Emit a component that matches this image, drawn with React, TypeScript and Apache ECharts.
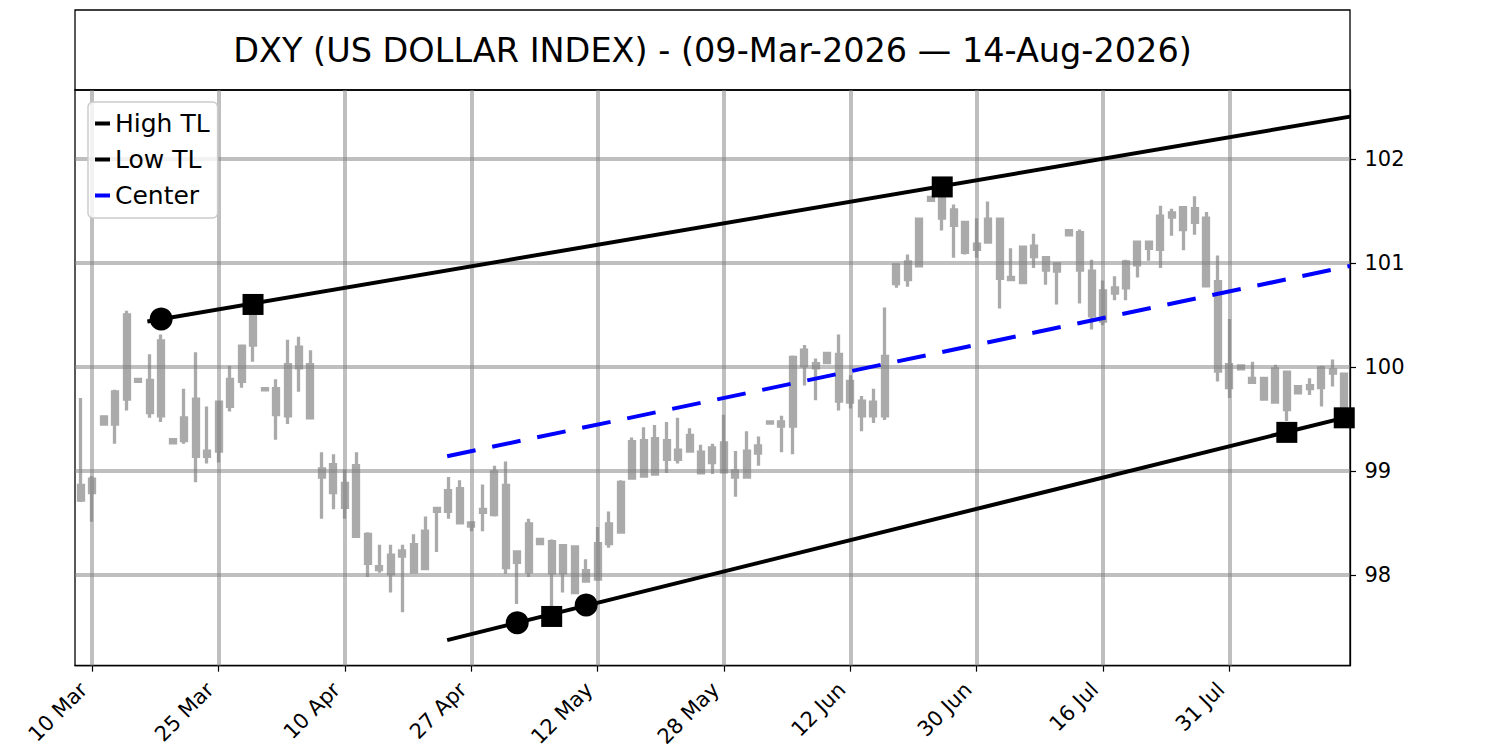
import React, { useEffect, useRef } from "react";
import * as echarts from "echarts";

const FONT = "DejaVu Sans";

const titleText = "DXY (US DOLLAR INDEX) - (09-Mar-2026 \u2014 14-Aug-2026)";

const dates: string[] = [
  "9 Mar", "10 Mar", "11 Mar", "12 Mar", "13 Mar", "16 Mar", "17 Mar", "18 Mar", "19 Mar", "20 Mar", "23 Mar", "24 Mar", "25 Mar", "26 Mar", "27 Mar", "30 Mar", "31 Mar",
  "1 Apr", "2 Apr", "6 Apr", "7 Apr", "8 Apr", "9 Apr", "10 Apr", "13 Apr", "14 Apr", "15 Apr", "16 Apr", "17 Apr", "20 Apr", "21 Apr", "22 Apr", "23 Apr", "24 Apr", "27 Apr", "28 Apr", "29 Apr", "30 Apr",
  "1 May", "4 May", "5 May", "6 May", "7 May", "8 May", "11 May", "12 May", "13 May", "14 May", "15 May", "18 May", "19 May", "20 May", "21 May", "22 May", "26 May", "27 May", "28 May", "29 May",
  "1 Jun", "2 Jun", "3 Jun", "4 Jun", "5 Jun", "8 Jun", "9 Jun", "10 Jun", "11 Jun", "12 Jun", "15 Jun", "16 Jun", "17 Jun", "18 Jun", "22 Jun", "23 Jun", "24 Jun", "25 Jun", "26 Jun", "29 Jun", "30 Jun",
  "1 Jul", "2 Jul", "6 Jul", "7 Jul", "8 Jul", "9 Jul", "10 Jul", "13 Jul", "14 Jul", "15 Jul", "16 Jul", "17 Jul", "20 Jul", "21 Jul", "22 Jul", "23 Jul", "24 Jul", "27 Jul", "28 Jul", "29 Jul", "30 Jul", "31 Jul",
  "3 Aug", "4 Aug", "5 Aug", "6 Aug", "7 Aug", "10 Aug", "11 Aug", "12 Aug", "13 Aug", "14 Aug",
];

const xTickLabels: string[] = ["10 Mar", "25 Mar", "10 Apr", "27 Apr", "12 May", "28 May", "12 Jun", "30 Jun", "16 Jul", "31 Jul"];
const yTicks: number[] = [98, 99, 100, 101, 102];
const yMin = 97.127;
const yMax = 102.662;

const opens: number[] = [
  98.72, 98.79, 99.45, 99.45, 100.5, 99.88, 99.56, 100.25, 99.27, 99.29,
  99.69, 99.14, 99.19, 99.62, 99.86, 100.55, 99.79, 99.54, 99.53, 100.19,
  100.02, 99.02, 99.06, 98.88, 99.05, 98.39, 98.08, 98.01, 98.18, 98.03,
  98.06, 98.61, 98.61, 98.83, 98.5, 98.6, 98.58, 98.86, 98.22, 98.03,
  98.34, 98.32, 98.28, 98.27, 97.94, 97.96, 98.3, 98.41, 98.93, 99.29,
  98.97, 99.29, 99.11, 99.19, 99.18, 99.08, 99.27, 99.0, 98.94, 99.17,
  99.46, 99.47, 99.43, 100.01, 100.03, 100.04, 100.12, 99.86, 99.67, 99.53,
  99.53, 100.8, 100.84, 100.97, 101.6, 101.64, 101.51, 101.39, 101.13, 101.2,
  101.42, 100.86, 100.81, 101.16, 101.05, 100.99, 101.27, 101.29, 100.92, 100.44,
  100.71, 100.76, 100.98, 101.2, 101.13, 101.44, 101.53, 101.39, 101.43, 100.82,
  100.02, 99.98, 99.89, 99.89, 99.66, 99.95, 99.75, 99.79, 99.8, 99.97,
  99.93,
];

const closes: number[] = [
  98.86, 98.92, 99.52, 99.76, 99.69, 99.86, 99.87, 99.53, 99.3, 99.51,
  99.14, 99.19, 99.66, 99.88, 100.2, 100.21, 99.78, 99.79, 100.02, 99.99,
  99.51, 98.94, 98.79, 98.65, 98.37, 98.11, 98.05, 98.19, 98.23, 98.29,
  98.42, 98.64, 98.81, 98.5, 98.47, 98.63, 98.99, 98.07, 98.12, 98.49,
  98.3, 98.02, 98.02, 97.83, 98.04, 98.3, 98.49, 98.89, 99.28, 98.95,
  99.31, 99.11, 99.2, 99.34, 98.98, 99.22, 98.99, 98.94, 99.19, 99.24,
  99.47, 99.43, 100.09, 100.16, 99.99, 100.13, 99.67, 99.66, 99.53, 99.66,
  100.1, 100.98, 101.01, 101.42, 101.63, 101.43, 101.36, 101.1, 101.18, 101.42,
  100.85, 100.84, 101.15, 101.06, 100.93, 100.92, 101.31, 100.93, 100.49, 100.73,
  100.76, 101.01, 101.2, 101.14, 101.45, 101.48, 101.32, 101.52, 100.78, 99.96,
  99.8, 100.01, 99.85, 99.69, 99.98, 99.59, 99.81, 99.82, 99.99, 99.94,
  99.62,
];

const lows: number[] = [
  98.7, 98.51, 99.44, 99.26, 99.58, 99.85, 99.51, 99.47, 99.26, 99.26,
  98.89, 99.07, 99.08, 99.57, 99.8, 100.05, 99.77, 99.3, 99.45, 99.76,
  99.51, 98.54, 98.63, 98.54, 98.37, 97.98, 98.02, 97.83, 97.64, 98.02,
  98.06, 98.22, 98.54, 98.5, 98.42, 98.42, 98.56, 98.01, 97.72, 97.98,
  98.29, 97.67, 97.83, 97.82, 97.93, 97.95, 98.26, 98.4, 98.92, 98.94,
  98.96, 98.98, 99.07, 99.18, 98.97, 98.97, 98.98, 98.75, 98.93, 99.05,
  99.45, 99.18, 99.16, 99.82, 99.68, 100.03, 99.58, 99.6, 99.38, 99.46,
  99.49, 100.76, 100.77, 100.96, 101.59, 101.31, 101.05, 101.08, 101.05, 101.19,
  100.56, 100.83, 100.8, 100.95, 100.79, 100.6, 101.26, 100.61, 100.36, 100.4,
  100.64, 100.64, 100.86, 101.02, 100.95, 101.26, 101.12, 101.27, 100.77, 99.86,
  99.7, 99.97, 99.85, 99.68, 99.65, 99.48, 99.74, 99.73, 99.62, 99.81,
  99.55,
];

const highs: number[] = [
  99.7, 98.95, 99.53, 99.78, 100.54, 99.89, 100.12, 100.31, 99.31, 99.79,
  100.14, 99.62, 99.67, 100.01, 100.21, 100.6, 99.8, 99.88, 100.26, 100.29,
  100.16, 99.18, 99.16, 99.01, 99.18, 98.41, 98.29, 98.29, 98.29, 98.39,
  98.56, 98.65, 98.94, 98.91, 98.51, 98.87, 99.05, 99.09, 98.23, 98.54,
  98.35, 98.34, 98.28, 98.28, 98.15, 98.46, 98.61, 98.91, 99.32, 99.42,
  99.44, 99.47, 99.51, 99.41, 99.25, 99.26, 99.54, 99.19, 99.38, 99.33,
  99.48, 99.53, 100.11, 100.21, 100.08, 100.14, 100.31, 99.92, 99.72, 99.79,
  100.57, 100.99, 101.08, 101.43, 101.64, 101.7, 101.56, 101.4, 101.43, 101.59,
  101.43, 101.14, 101.16, 101.28, 101.05, 101.0, 101.32, 101.32, 101.03, 100.83,
  100.87, 101.03, 101.21, 101.2, 101.55, 101.52, 101.54, 101.64, 101.49, 101.07,
  100.46, 100.01, 100.05, 99.89, 100.02, 99.96, 99.82, 99.89, 100.01, 100.07,
  99.93,
];

// Trend lines: endpoints as (trading-day index, value)
const highTLx: number[] = [5.8, 110.5];
const highTLy: number[] = [100.437, 102.406];
const lowTLx: number[] = [31.9, 110.5];
const lowTLy: number[] = [97.373, 99.524];
const centerX: number[] = [31.9, 110.5];
const centerY: number[] = [99.14, 100.97];

// Pivot markers on the trend lines
const circleIdx: number[] = [7, 38, 44];
const circleVal: number[] = [100.46, 97.54, 97.71];
const squareIdx: number[] = [15, 75, 41, 105, 110];
const squareVal: number[] = [100.6, 101.73, 97.6, 99.37, 99.51];

const CANDLE = "#aaaaaa";
const GRID = "rgba(128,128,128,0.5)";
const AXIS = "#000000";

const L = 75;
const R = 1350;
const T = 90;
const B = 667;

export default function App() {
  const ref = useRef<HTMLDivElement>(null);

  useEffect(() => {
    if (!ref.current) return;
    const chart = echarts.init(ref.current, null, { renderer: "svg", width: 1500, height: 750 });
    const showTick = (_i: number, v: string) => xTickLabels.indexOf(v) >= 0;

    const option: any = {
      animation: false,
      backgroundColor: "#ffffff",
      textStyle: { fontFamily: FONT },
      grid: {
        left: L,
        right: 1500 - R,
        top: T,
        bottom: 750 - B,
        show: true,
        borderColor: AXIS,
        borderWidth: 1.3,
        backgroundColor: "transparent",
        containLabel: false,
      },
      graphic: [
        {
          type: "rect",
          shape: { x: L, y: 10, width: R - L, height: T - 10 },
          style: { fill: "none", stroke: AXIS, lineWidth: 1.3 },
          silent: true,
        },
        {
          type: "text",
          x: (L + R) / 2,
          y: 50,
          style: {
            text: titleText,
            fontSize: 33.5,
            fontFamily: FONT,
            fill: "#000",
            textAlign: "center",
            textVerticalAlign: "middle",
          },
          silent: true,
        },
      ],
      legend: {
        left: 88,
        top: 102,
        orient: "vertical",
        selectedMode: false,
        itemWidth: 15,
        itemHeight: 4,
        itemGap: 11,
        padding: [9, 8, 10, 7],
        backgroundColor: "rgba(255,255,255,0.8)",
        borderColor: "#cccccc",
        borderWidth: 1.5,
        borderRadius: 5,
        textStyle: { fontSize: 25, fontFamily: FONT, color: "#000" },
        data: [
          { name: "High TL", icon: "rect" },
          { name: "Low TL", icon: "rect" },
          { name: "Center", icon: "rect" },
        ],
      },
      xAxis: [
        {
          type: "category",
          data: dates,
          boundaryGap: true,
          axisLine: { show: true, onZero: false, lineStyle: { color: AXIS, width: 1.3 } },
          axisTick: {
            show: true,
            alignWithLabel: true,
            interval: showTick,
            length: 6,
            lineStyle: { color: AXIS, width: 1.2 },
          },
          axisLabel: {
            interval: showTick,
            rotate: 45,
            fontSize: 21,
            fontFamily: FONT,
            color: "#000",
            margin: 12,
            padding: [0, 12, 0, 0],
          },
          splitLine: { show: false },
        },
        {
          type: "value",
          min: -0.5,
          max: 110.5,
          show: false,
        },
      ],
      yAxis: {
        type: "value",
        position: "right",
        min: yMin,
        max: yMax,
        splitNumber: 5,
        axisLine: { show: true, onZero: false, lineStyle: { color: AXIS, width: 1.3 } },
        axisTick: { show: true, length: 6, lineStyle: { color: AXIS, width: 1.2 }, customValues: yTicks },
        axisLabel: {
          fontSize: 21,
          fontFamily: FONT,
          color: "#000",
          margin: 14.5,
          customValues: yTicks,
          formatter: (v: number) => String(v),
        },
        splitLine: { show: false },
      },
      series: [
        {
          type: "candlestick",
          name: "DXY",
          xAxisIndex: 0,
          yAxisIndex: 0,
          barWidth: 5.5,
          z: 2,
          itemStyle: {
            color: CANDLE,
            color0: CANDLE,
            borderColor: CANDLE,
            borderColor0: CANDLE,
            borderColorDoji: CANDLE,
            borderWidth: 3.3,
          },
          emphasis: { disabled: true },
          data: dates.map((_, i) => [opens[i], closes[i], lows[i], highs[i]]),
          markLine: {
            silent: true,
            z: 3,
            symbol: ["none", "none"],
            label: { show: false },
            emphasis: { disabled: true },
            animation: false,
            lineStyle: { color: GRID, width: 4, type: "solid" },
            data: [
              ...xTickLabels.map((t) => ({ xAxis: t })),
              ...yTicks.map((v) => ({ yAxis: v })),
            ],
          },
        },
        {
          type: "line",
          name: "High TL",
          xAxisIndex: 1,
          yAxisIndex: 0,
          z: 4,
          color: "#000000",
          symbol: "none",
          lineStyle: { color: "#000000", width: 4 },
          emphasis: { disabled: true },
          data: highTLx.map((x, k) => [x, highTLy[k]]),
        },
        {
          type: "line",
          name: "Low TL",
          xAxisIndex: 1,
          yAxisIndex: 0,
          z: 4,
          color: "#000000",
          symbol: "none",
          lineStyle: { color: "#000000", width: 4 },
          emphasis: { disabled: true },
          data: lowTLx.map((x, k) => [x, lowTLy[k]]),
        },
        {
          type: "line",
          name: "Center",
          xAxisIndex: 1,
          yAxisIndex: 0,
          z: 4,
          color: "#0000ff",
          symbol: "none",
          lineStyle: { color: "#0000ff", width: 4, type: [29, 17] },
          emphasis: { disabled: true },
          data: centerX.map((x, k) => [x, centerY[k]]),
        },
        {
          type: "scatter",
          name: "pivot-circle",
          xAxisIndex: 1,
          yAxisIndex: 0,
          z: 5,
          symbol: "circle",
          symbolSize: 23,
          itemStyle: { color: "#000000", opacity: 1 },
          emphasis: { disabled: true },
          clip: false,
          data: circleIdx.map((x, k) => [x, circleVal[k]]),
        },
        {
          type: "scatter",
          name: "pivot-square",
          xAxisIndex: 1,
          yAxisIndex: 0,
          z: 5,
          symbol: "rect",
          symbolSize: 21,
          itemStyle: { color: "#000000", opacity: 1 },
          emphasis: { disabled: true },
          clip: false,
          data: squareIdx.map((x, k) => [x, squareVal[k]]),
        },
      ],
    };

    chart.setOption(option);
    return () => {
      chart.dispose();
    };
  }, []);

  return (
    <div
      ref={ref}
      style={{ position: "fixed", left: 0, top: 0, width: 1500, height: 750, background: "#fff" }}
    />
  );
}
